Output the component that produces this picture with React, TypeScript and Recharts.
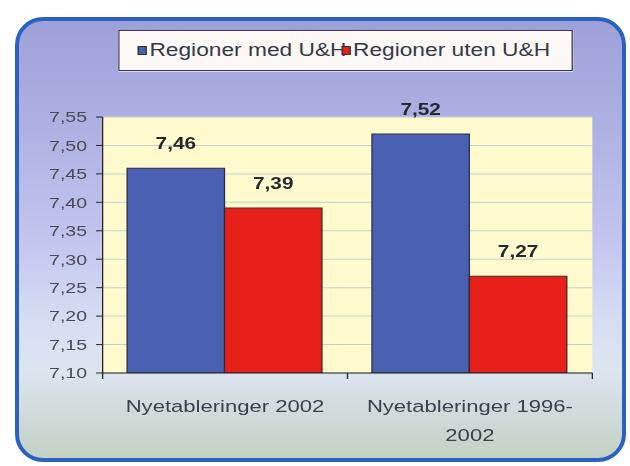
import { Bar, BarChart, CartesianGrid, LabelList, Legend, XAxis, YAxis } from 'recharts'

const categories = ['Nyetableringer 2002', 'Nyetableringer 1996-2002']
const medUH = [7.46, 7.52]
const utenUH = [7.39, 7.27]
const yTicks = [7.1, 7.15, 7.2, 7.25, 7.3, 7.35, 7.4, 7.45, 7.5, 7.55]

const seriesNames = ['Regioner med U&H', 'Regioner uten U&H']
const colors = ['#4a61b3', '#e8201c']

const data = categories.map((name, i) => ({ name, med: medUH[i], uten: utenUH[i] }))

// the original picture is stretched sideways, so the chart is drawn narrow and scaled
const INNER_W = 485
const STRETCH = 630 / INNER_W
const FONT = 'Arial, "Liberation Sans", sans-serif'

const comma = (v: number) => v.toFixed(2).replace('.', ',')

const CategoryTick = (props: any) => {
  const { x, y, payload, index, visibleTicksCount } = props
  const text: string = payload.value
  const half = payload.offset || 0
  const lines = text.includes('-') ? [text.slice(0, text.indexOf('-') + 1), text.slice(text.indexOf('-') + 1)] : [text]
  return (
    <g>
      {/* tick marks sit on the category boundaries, not the centres */}
      {half > 0 && <line x1={x - half} x2={x - half} y1={y} y2={y + 6} stroke="#222" />}
      {half > 0 && index === visibleTicksCount - 1 && <line x1={x + half} x2={x + half} y1={y} y2={y + 6} stroke="#222" />}
      <text x={x} y={y + 39} textAnchor="middle" fontSize={17} fontFamily={FONT} fill="#3a404c">
        {lines.map((l, i) => (
          <tspan key={i} x={x} dy={i === 0 ? 0 : 29}>
            {l}
          </tspan>
        ))}
      </text>
    </g>
  )
}

const LegendBox = () => (
  <div
    style={{
      boxSizing: 'border-box',
      width: '100%',
      height: '100%',
      border: '1.5px solid #3a3a44',
      background: '#fbf8f6',
      display: 'flex',
      alignItems: 'center',
      paddingLeft: 14,
      fontFamily: FONT,
      fontSize: 17.5,
      color: '#333a46',
      whiteSpace: 'nowrap',
    }}
  >
    {seriesNames.map((n, i) => (
      <span key={n} style={{ display: 'flex', alignItems: 'center', marginLeft: i === 0 ? 0 : -4 }}>
        <span
          style={{
            display: 'inline-block',
            width: 7,
            height: 9,
            background: colors[i],
            border: '1px solid #333',
            boxSizing: 'border-box',
            marginRight: 2,
          }}
        />
        {n}
      </span>
    ))}
  </div>
)

export default function App() {
  return (
    <div style={{ position: 'fixed', left: 0, top: 0, width: 630, height: 466, background: '#fff', overflow: 'hidden' }}>
      <div
        style={{
          position: 'absolute',
          left: 15,
          top: 17,
          width: 611,
          height: 445,
          boxSizing: 'border-box',
          border: '4px solid #2b62c2',
          borderRadius: 28,
          background:
            'linear-gradient(180deg, #9da1d8 0%, #aeb1e2 25%, #c3c5ee 50%, #d6dcf3 68%, #dde5f0 80%, #c2d1c4 100%)',
        }}
      />
      <div
        style={{
          position: 'absolute',
          left: 0,
          top: 0,
          width: INNER_W,
          height: 466,
          transform: `scaleX(${STRETCH})`,
          transformOrigin: '0 0',
        }}
      >
        <BarChart
          width={INNER_W}
          height={466}
          data={data}
          margin={{ top: 117, right: 29, bottom: 33, left: 0 }}
          barCategoryGap="10%"
          barGap={0}
        >
          <CartesianGrid vertical={false} stroke="#bcd5cb" fill="#fffacd" fillOpacity={1} />
          <XAxis
            dataKey="name"
            interval={0}
            height={60}
            tickLine={false}
            tickSize={0}
            tickMargin={0}
            axisLine={{ stroke: '#222' }}
            tick={<CategoryTick />}
          />
          <YAxis
            domain={[7.1, 7.55]}
            ticks={yTicks}
            allowDataOverflow
            interval={0}
            width={79}
            tickSize={5}
            tickMargin={7}
            tickFormatter={comma}
            axisLine={{ stroke: '#222' }}
            tickLine={{ stroke: '#222' }}
            tick={{ fontSize: 15, fontFamily: FONT, fill: '#4a4a56' }}
          />
          <Legend
            verticalAlign="middle"
            align="center"
            layout="horizontal"
            wrapperStyle={{ top: 30, left: 91, width: 350, height: 41 }}
            content={<LegendBox />}
          />
          <Bar dataKey="med" name={seriesNames[0]} fill={colors[0]} stroke="#2a2f44" strokeWidth={1} isAnimationActive={false}>
            <LabelList dataKey="med" position="top" offset={19} formatter={(v: any) => comma(Number(v))} fontSize={16} fontWeight="bold" fontFamily={FONT} fill="#252a30" />
          </Bar>
          <Bar dataKey="uten" name={seriesNames[1]} fill={colors[1]} stroke="#3a2a22" strokeWidth={1} isAnimationActive={false}>
            <LabelList dataKey="uten" position="top" offset={19} formatter={(v: any) => comma(Number(v))} fontSize={16} fontWeight="bold" fontFamily={FONT} fill="#252a30" />
          </Bar>
        </BarChart>
      </div>
    </div>
  )
}
